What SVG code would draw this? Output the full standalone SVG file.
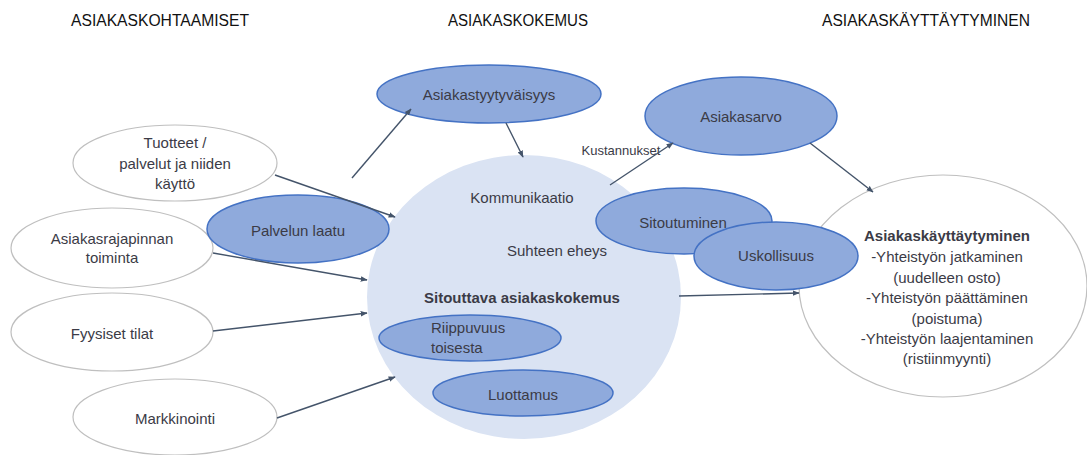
<svg xmlns="http://www.w3.org/2000/svg" width="1087" height="455" viewBox="0 0 1087 455">
<defs>
<marker id="ah" viewBox="0 0 10 10" refX="9" refY="5" markerWidth="7" markerHeight="7" markerUnits="userSpaceOnUse" orient="auto">
<path d="M0,1 L10,5 L0,9 z" fill="#44546a"/>
</marker>
<style>
text{font-family:"Liberation Sans",Arial,sans-serif;fill:#3b3b46;font-size:15px;text-anchor:middle;dominant-baseline:central}
.title{font-size:16px;fill:#111}
.white{fill:#fff;stroke:#bfbfbf;stroke-width:1.2}
.blue{fill:#8faadc;stroke:#4472c4;stroke-width:1.5}
.big{fill:#dae3f3;stroke:none}
.b{font-weight:bold}
.sm{font-size:13px}
.con line{stroke:#44546a;stroke-width:1.4;marker-end:url(#ah)}
</style>
</defs>
<rect width="1087" height="455" fill="#fff"/>
<text class="title" x="160" y="20" textLength="178" lengthAdjust="spacingAndGlyphs">ASIAKASKOHTAAMISET</text>
<text class="title" x="518" y="20" textLength="140" lengthAdjust="spacingAndGlyphs">ASIAKASKOKEMUS</text>
<text class="title" x="926" y="20" textLength="208" lengthAdjust="spacingAndGlyphs">ASIAKASKÄYTTÄYTYMINEN</text>

<g id="sitouttava">
<ellipse class="big" cx="524" cy="297" rx="157" ry="142"/>
<text x="522" y="197">Kommunikaatio</text>
<text x="557" y="250">Suhteen eheys</text>
<text class="b" x="522" y="297">Sitouttava asiakaskokemus</text>
</g>
<g id="tuotteet">
<ellipse class="white" cx="175" cy="163" rx="102" ry="38"/>
<text x="175" y="142">Tuotteet /</text>
<text x="175" y="163">palvelut ja niiden</text>
<text x="175" y="183">käyttö</text>
</g>
<g id="asiakasrajapinnan">
<ellipse class="white" cx="112" cy="248" rx="101" ry="40"/>
<text x="112" y="238">Asiakasrajapinnan</text>
<text x="112" y="257">toiminta</text>
</g>
<g id="fyysiset">
<ellipse class="white" cx="112" cy="332" rx="101" ry="39"/>
<text x="112" y="333">Fyysiset tilat</text>
</g>
<g id="markkinointi">
<ellipse class="white" cx="175" cy="417" rx="102" ry="38"/>
<text x="175" y="418">Markkinointi</text>
</g>
<g id="palvelun">
<ellipse class="blue" cx="298" cy="229" rx="91" ry="34"/>
<text x="298" y="230">Palvelun laatu</text>
</g>
<g id="tyytyvaisyys">
<ellipse class="blue" cx="489" cy="94" rx="112" ry="29"/>
<text x="489" y="94">Asiakastyytyväisyys</text>
</g>
<g id="riippuvuus">
<ellipse class="blue" cx="470" cy="338" rx="91" ry="23"/>
<text x="431" y="327" style="text-anchor:start">Riippuvuus</text>
<text x="431" y="347" style="text-anchor:start">toisesta</text>
</g>
<g id="luottamus">
<ellipse class="blue" cx="523" cy="393" rx="90" ry="23"/>
<text x="523" y="394">Luottamus</text>
</g>
<g id="asiakasarvo">
<ellipse class="blue" cx="741" cy="116" rx="96" ry="39"/>
<text x="741" y="116">Asiakasarvo</text>
</g>
<g id="kayttaytyminen">
<ellipse class="white" cx="943" cy="286" rx="144" ry="111"/>
<text class="b" x="947" y="235">Asiakaskäyttäytyminen</text>
<text x="947" y="256">-Yhteistyön jatkaminen</text>
<text x="947" y="277">(uudelleen osto)</text>
<text x="947" y="297">-Yhteistyön päättäminen</text>
<text x="947" y="318">(poistuma)</text>
<text x="947" y="338">-Yhteistyön laajentaminen</text>
<text x="947" y="358">(ristiinmyynti)</text>
</g>
<g id="sitoutuminen">
<ellipse class="blue" cx="684" cy="221" rx="88" ry="33"/>
<text x="683" y="222">Sitoutuminen</text>
</g>
<g id="uskollisuus">
<ellipse class="blue" cx="776" cy="256" rx="82" ry="34"/>
<text x="776" y="255">Uskollisuus</text>
</g>
<text class="sm" x="621" y="150">Kustannukset</text>

<g class="con" id="connectors">
<line x1="352" y1="178" x2="411" y2="109"/>
<line x1="506" y1="123" x2="523" y2="157"/>
<line x1="275" y1="175" x2="395" y2="217"/>
<line x1="213" y1="253" x2="367" y2="280"/>
<line x1="213" y1="331" x2="367" y2="313"/>
<line x1="277" y1="418" x2="395" y2="377"/>
<line x1="610" y1="185" x2="673" y2="143"/>
<line x1="810" y1="143" x2="873" y2="192"/>
<line x1="679" y1="296" x2="799" y2="293"/>
</g>
</svg>
